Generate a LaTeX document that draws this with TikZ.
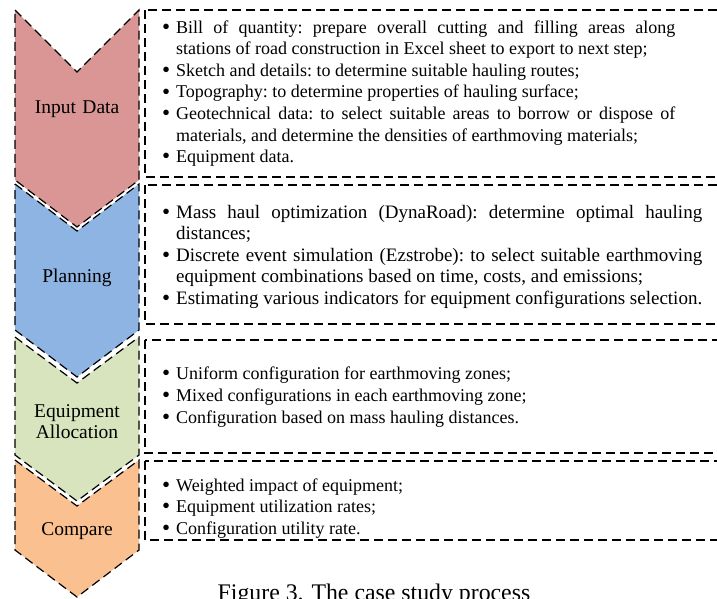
\documentclass[tikz,border=0pt]{standalone}
\usepackage{fontspec}
\setmainfont{Liberation Serif}
\usepackage{tikz}

\definecolor{inpcol}{RGB}{217,150,148}
\definecolor{plncol}{RGB}{142,180,227}
\definecolor{alccol}{RGB}{215,228,189}
\definecolor{cmpcol}{RGB}{250,192,144}
\newcommand{\fitem}{\leavevmode\hangindent=14pt\hangafter=1%
  \hbox to 14pt{\raisebox{-1.2pt}{\fontsize{23}{23}\selectfont\textbullet}\hfil}}
\newcommand{\bitem}{\par\fitem}

\begin{document}
\begin{tikzpicture}[x=1pt,y=-1pt,
  font=\fontsize{18}{21.6}\selectfont\frenchspacing,
  dsh/.style={line width=1.2pt,dash pattern=on 9pt off 5pt},
  chev/.style={dsh,draw=black,preaction={draw=white,solid,line width=4pt}},
  box/.style={dsh,draw=black},
  lbl/.style={inner sep=0pt,text width=110pt,align=center,anchor=base,
    font=\fontsize{19.5}{21}\selectfont},
  txt/.style={inner sep=0pt,align=justify,anchor=base west}]
\useasboundingbox (0,0) rectangle (717,598);
% chevrons, top to bottom
\foreach \yt/\yn/\yb/\yp/\cl in {10/72/180/227/inpcol,184/231/330/377/plncol,
    337/383/455/501/alccol,460/506/550/597/cmpcol}
  \filldraw[chev,fill=\cl] (15,\yt) -- (77,\yn) -- (139,\yt) -- (139,\yb)
    -- (77,\yp) -- (15,\yb) -- cycle;
\node[lbl] (inp) at (77,113) {Input Data};
\node[lbl] (pln) at (77,282) {Planning};
\node[lbl] (alc) at (77,417) {Equipment\\Allocation};
\node[lbl] (cmp) at (77,535) {Compare};
% boxes
\draw[box] (145,10) rectangle (740,177);
\draw[box] (145,185) rectangle (740,324);
\draw[box] (145,340) rectangle (740,453);
\draw[box] (145,461) rectangle (740,540);
\node[txt,text width=513pt] (inpt) at (162,33) {%
  \fitem Bill of quantity: prepare overall cutting and filling areas along\linebreak
  stations of road construction in Excel sheet to export to next step;
  \bitem Sketch and details: to determine suitable hauling routes;
  \bitem Topography: to determine properties of hauling surface;
  \bitem Geotechnical data: to select suitable areas to borrow or dispose of\linebreak
  materials, and determine the densities of earthmoving materials;
  \bitem Equipment data.};
\node[txt,text width=540pt,font=\fontsize{19}{21.5}\selectfont\frenchspacing]
  (plnt) at (162,218) {%
  \fitem Mass haul optimization (DynaRoad): determine optimal hauling\linebreak
  distances;
  \bitem Discrete event simulation (Ezstrobe): to select suitable earthmoving\linebreak
  equipment combinations based on time, costs, and emissions;
  \bitem Estimating various indicators for equipment configurations selection.};
\node[txt,text width=539pt,font=\fontsize{18}{22}\selectfont\frenchspacing]
  (alct) at (162,379) {%
  \fitem Uniform configuration for earthmoving zones;
  \bitem Mixed configurations in each earthmoving zone;
  \bitem Configuration based on mass hauling distances.};
\node[txt,text width=539pt] (cmpt) at (162,491) {%
  \fitem Weighted impact of equipment;
  \bitem Equipment utilization rates;
  \bitem Configuration utility rate.};
\node[font=\fontsize{23.8}{26}\selectfont,anchor=base] (cap) at (374,600)
  {Figure 3. The case study process};
\end{tikzpicture}
\end{document}
